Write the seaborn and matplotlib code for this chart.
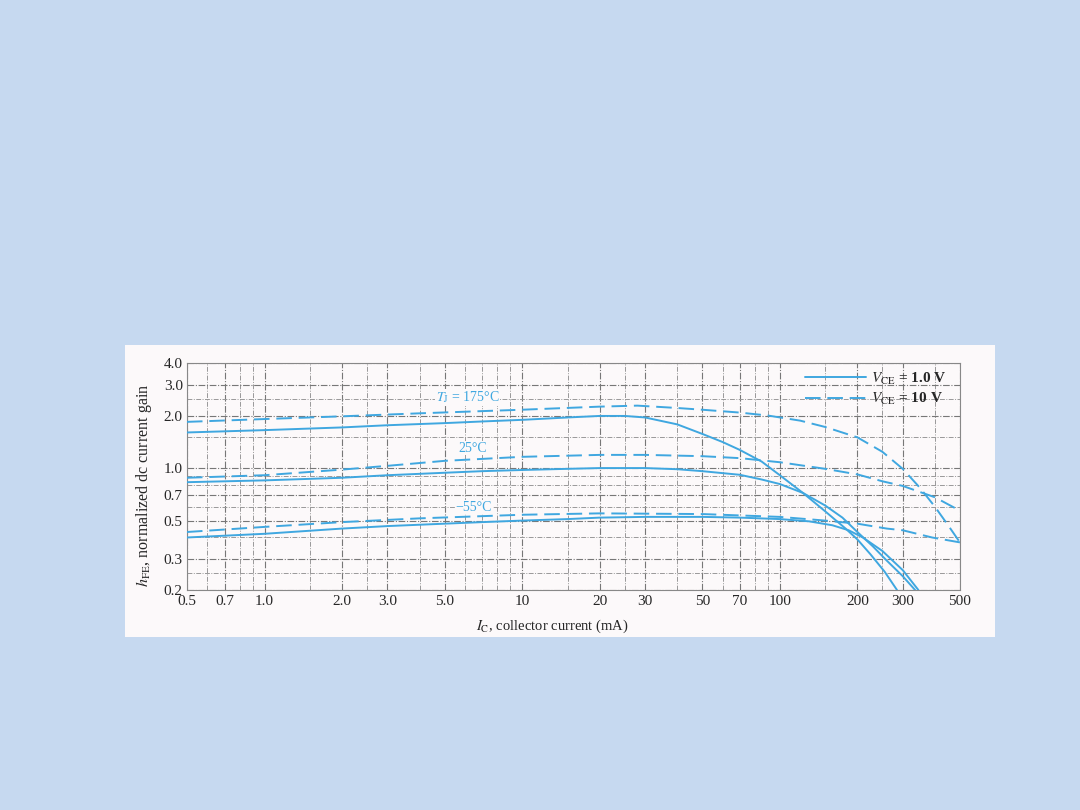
import matplotlib.pyplot as plt
import seaborn as sns
from matplotlib.lines import Line2D
from matplotlib.patches import Rectangle

# Data: collector current (mA) and normalized hFE
ic_175_vce1 = [0.5, 1, 2, 3, 5, 7, 10, 15, 20, 25, 30, 40, 50, 60, 70, 85, 100, 123, 150, 180, 200, 225, 255, 285]
hfe_175_vce1 = [1.60, 1.65, 1.71, 1.76, 1.81, 1.85, 1.89, 1.95, 1.99, 1.99, 1.95, 1.78, 1.57, 1.41, 1.27, 1.09, 0.91, 0.72, 0.565, 0.45, 0.39, 0.32, 0.255, 0.2]

ic_175_vce10 = [0.5, 1, 2, 4, 10, 20, 28, 40, 50, 70, 90, 120, 150, 200, 250, 300, 350, 400, 450, 500]
hfe_175_vce10 = [1.84, 1.91, 1.98, 2.06, 2.16, 2.25, 2.28, 2.21, 2.16, 2.08, 2.0, 1.87, 1.72, 1.50, 1.24, 0.99, 0.77, 0.60, 0.47, 0.375]

ic_25_vce1 = [0.5, 1, 2, 3, 5, 7, 10, 15, 20, 30, 40, 50, 70, 85, 100, 123, 150, 175, 200, 230, 260, 300, 335]
hfe_25_vce1 = [0.83, 0.85, 0.88, 0.91, 0.94, 0.96, 0.975, 0.99, 1.0, 1.0, 0.985, 0.96, 0.915, 0.86, 0.81, 0.72, 0.61, 0.52, 0.43, 0.355, 0.295, 0.24, 0.2]

ic_25_vce10 = [0.5, 1, 2, 3, 5, 10, 20, 30, 50, 70, 100, 150, 200, 250, 300, 400, 500]
hfe_25_vce10 = [0.88, 0.91, 0.98, 1.03, 1.10, 1.16, 1.19, 1.19, 1.17, 1.14, 1.08, 0.99, 0.92, 0.84, 0.79, 0.68, 0.57]

ic_m55_vce1 = [0.5, 1, 2, 3, 5, 7, 10, 15, 20, 30, 50, 70, 100, 130, 160, 185, 210, 250, 300, 345]
hfe_m55_vce1 = [0.40, 0.42, 0.45, 0.465, 0.48, 0.49, 0.50, 0.51, 0.52, 0.525, 0.525, 0.52, 0.51, 0.495, 0.47, 0.44, 0.40, 0.335, 0.26, 0.2]

ic_m55_vce10 = [0.5, 1, 2, 4, 10, 20, 50, 100, 150, 200, 260, 300, 390, 500]
hfe_m55_vce10 = [0.43, 0.46, 0.49, 0.515, 0.54, 0.55, 0.545, 0.525, 0.50, 0.48, 0.45, 0.44, 0.40, 0.375]

x_ticks = [0.5, 0.7, 1, 2, 3, 5, 10, 20, 30, 50, 70, 100, 200, 300, 500]
x_labels = ['0.5', '0.7', '1.0', '2.0', '3.0', '5.0', '10', '20', '30', '50', '70', '100', '200', '300', '500']
x_grid = [0.6, 0.8, 0.9, 1.5, 2.5, 4, 6, 7, 8, 9, 15, 25, 40, 60, 80, 90, 150, 250, 400]
y_ticks = [0.2, 0.3, 0.5, 0.7, 1.0, 2.0, 3.0, 4.0]
y_labels = ['0.2', '0.3', '0.5', '0.7', '1.0', '2.0', '3.0', '4.0']
y_grid = [0.25, 0.4, 0.6, 0.8, 0.9, 1.5, 2.5]

temp_labels = [r'$T_{\rm J}$ = 175°C', '25°C', '\u221255°C']
temp_label_pos = [(6.15, 2.55), (6.4, 1.30), (6.5, 0.598)]

sns.set_style('white')
plt.rcParams['font.family'] = ['Liberation Serif', 'DejaVu Serif']
plt.rcParams['mathtext.fontset'] = 'stix'

blue = '#3fa7e0'
panel = '#fcf9fa'
ink = '#262626'
dash = (0, (8, 3.5))

fig = plt.figure(figsize=(10.8, 8.1), dpi=100, facecolor='#c6d9f0')
fig.patches.append(Rectangle((0.1157, 0.2136), 0.8056, 0.3605, transform=fig.transFigure,
                             facecolor=panel, edgecolor='none', zorder=-10))
ax = fig.add_axes([0.1731, 0.2716, 0.7157, 0.2802])
ax.set_facecolor(panel)

series = [
    (ic_175_vce1, hfe_175_vce1, '-'), (ic_175_vce10, hfe_175_vce10, dash),
    (ic_25_vce1, hfe_25_vce1, '-'), (ic_25_vce10, hfe_25_vce10, dash),
    (ic_m55_vce1, hfe_m55_vce1, '-'), (ic_m55_vce10, hfe_m55_vce10, dash),
]
for ic, hfe, ls in series:
    sns.lineplot(x=ic, y=hfe, ax=ax, color=blue, lw=1.4, linestyle=ls,
                 sort=False, estimator=None, zorder=3)

ax.set_xscale('log')
ax.set_yscale('log')
ax.set_xlim(0.5, 500)
ax.set_ylim(0.2, 4.0)

ax.set_xticks(x_ticks, labels=x_labels)
ax.set_xticks(x_grid, minor=True, labels=[''] * len(x_grid))
ax.set_yticks(y_ticks, labels=y_labels)
ax.set_yticks(y_grid, minor=True, labels=[''] * len(y_grid))
ax.tick_params(which='both', length=0, labelsize=11, colors=ink)
ax.tick_params(axis='x', pad=3.5)
ax.tick_params(axis='y', pad=3)

ax.grid(which='major', color='#777777', lw=0.8, linestyle=(0, (6, 1.5, 1, 1.5)))
ax.grid(which='minor', color='#999999', lw=0.7, linestyle=(0, (5, 1.5, 1, 1.5)))
for s in ax.spines.values():
    s.set_color('#888888')
    s.set_linewidth(0.8)

ax.set_xlabel(r'$I_{\rm C}$, collector current (mA)', fontsize=10.5, color=ink)
ax.xaxis.set_label_coords(0.473, -0.12)
ax.set_ylabel(r'$h_{\rm FE}$, normalized dc current gain', fontsize=11.5, color=ink)
ax.yaxis.set_label_coords(-0.042, 0.46)

for txt, (x, y) in zip(temp_labels, temp_label_pos):
    ax.text(x, y, txt, color=blue, fontsize=10, ha='center', va='center', zorder=4,
            bbox=dict(facecolor=panel, edgecolor='none', pad=0.5))

handles = [Line2D([], [], color=blue, lw=1.4, linestyle='-'),
           Line2D([], [], color=blue, lw=1.4, linestyle=dash)]
ax.legend(handles, [r'$V_{\rm CE}$ = 1.0 V', r'$V_{\rm CE}$ = 10 V'], loc='upper right',
          bbox_to_anchor=(0.993, 1.0), borderaxespad=0, frameon=False,
          prop={'size': 11, 'weight': 'bold'}, labelcolor=ink,
          handlelength=4.0, handletextpad=0.35, labelspacing=0.3, borderpad=0.5)

fig.savefig('out.png', dpi=100, facecolor=fig.get_facecolor())
